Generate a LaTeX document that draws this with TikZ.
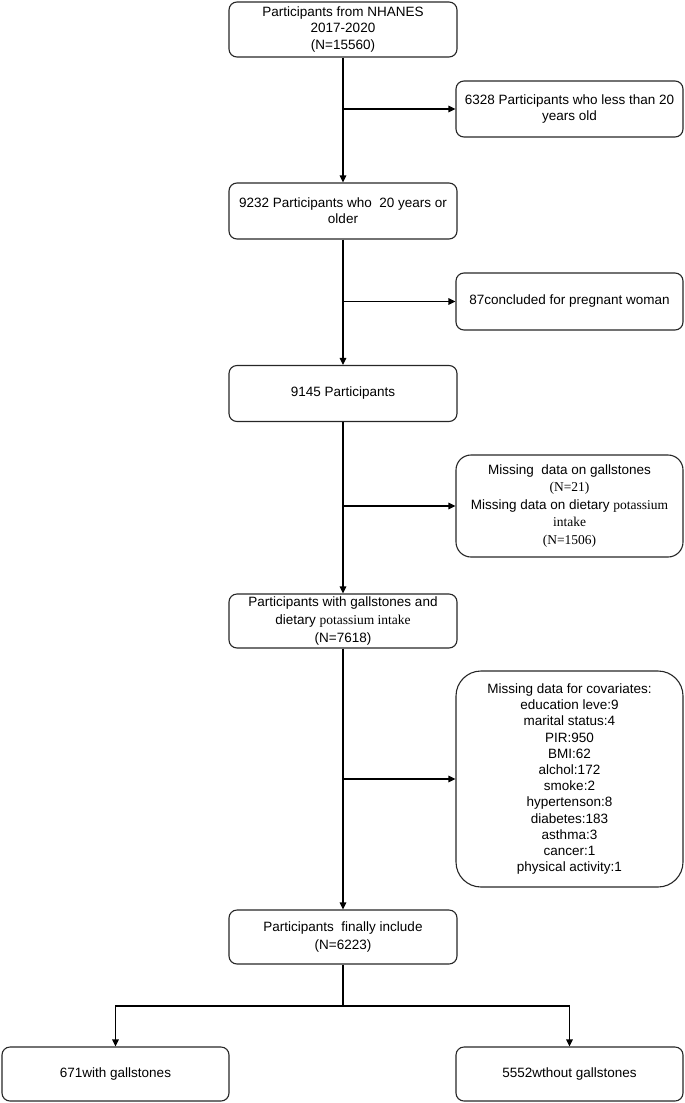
\documentclass[tikz,border=0pt]{standalone}
\usepackage{fontspec}
\setmainfont{Liberation Sans}
\newfontfamily\serifpart{Liberation Serif}
\usetikzlibrary{arrows.meta}
\tikzset{
  x=1pt, y=-1pt,
  boxstyle/.style={draw=black!85, line width=1.1pt, rounded corners=8pt, align=center,
    inner sep=2pt, font=\fontsize{13.5}{16.2}\selectfont},
  mainbox/.style={boxstyle, minimum width=228pt},
  sidebox/.style={boxstyle, minimum width=227pt},
  conn/.style={line width=1.1pt, draw=black},
  arr/.style={conn, -{Triangle[length=7pt,width=6.5pt]}},
}
\begin{document}
\begin{tikzpicture}
\useasboundingbox (0,0) rectangle (685,1103);
% main column
\node[mainbox, minimum height=55pt] (b1) at (343,29.5) {Participants from NHANES\\2017-2020\\(N=15560)};
\node[mainbox, minimum height=56pt] (b2) at (343,211) {9232 Participants who\ \ 20 years or\\older};
\node[mainbox, minimum height=56pt] (b3) at (343,393.5) {9145 Participants};
\node[mainbox, minimum height=54pt, font=\fontsize{13.5}{18}\selectfont] (b4) at (343,621) {Participants with gallstones and\\dietary {\serifpart potassium intake}\\(N=7618)};
\node[mainbox, minimum height=54pt, font=\fontsize{13.5}{18}\selectfont] (b5) at (343,937) {Participants\ \ finally include\\(N=6223)};
% side boxes
\node[sidebox, minimum height=56pt] (s1) at (569.5,109) {6328 Participants who less than 20\\years old};
\node[sidebox, minimum height=57pt] (s2) at (569.5,301.5) {87concluded for pregnant woman};
\node[sidebox, minimum height=102pt, rounded corners=15pt, font=\fontsize{13.5}{17.5}\selectfont] (s3) at (569.5,506)
  {Missing\ \ data on gallstones\\{\serifpart (N=21)}\\Missing data on dietary {\serifpart potassium}\\{\serifpart intake}\\{\serifpart (N=1506)}};
\node[sidebox, minimum height=216pt, rounded corners=25pt] (s4) at (569.5,779)
  {Missing data for covariates:\\education leve:9\\marital status:4\\PIR:950\\BMI:62\\alchol:172\\smoke:2\\hypertenson:8\\diabetes:183\\asthma:3\\cancer:1\\physical activity:1};
% bottom boxes
\node[boxstyle, minimum width=227pt, minimum height=54pt] (L) at (115.5,1074) {671with gallstones};
\node[boxstyle, minimum width=227pt, minimum height=54pt] (R) at (569.5,1074) {5552wthout gallstones};
% branch points
\coordinate (j1) at (343,109);
\coordinate (j2) at (343,301.5);
\coordinate (j3) at (343,506);
\coordinate (j4) at (343,779);
\coordinate (j5) at (343,1006);
% connectors
\draw[arr] (b1.south) -- (b2.north);
\draw[arr] (j1) -- (s1.west);
\draw[arr] (b2.south) -- (b3.north);
\draw[arr] (j2) -- (s2.west);
\draw[arr] (b3.south) -- (b4.north);
\draw[arr] (j3) -- (s3.west);
\draw[arr] (b4.south) -- (b5.north);
\draw[arr] (j4) -- (s4.west);
\draw[conn] (b5.south) -- (j5);
\draw[arr] (j5) -| (L.north);
\draw[arr] (j5) -| (R.north);
\end{tikzpicture}
\end{document}
